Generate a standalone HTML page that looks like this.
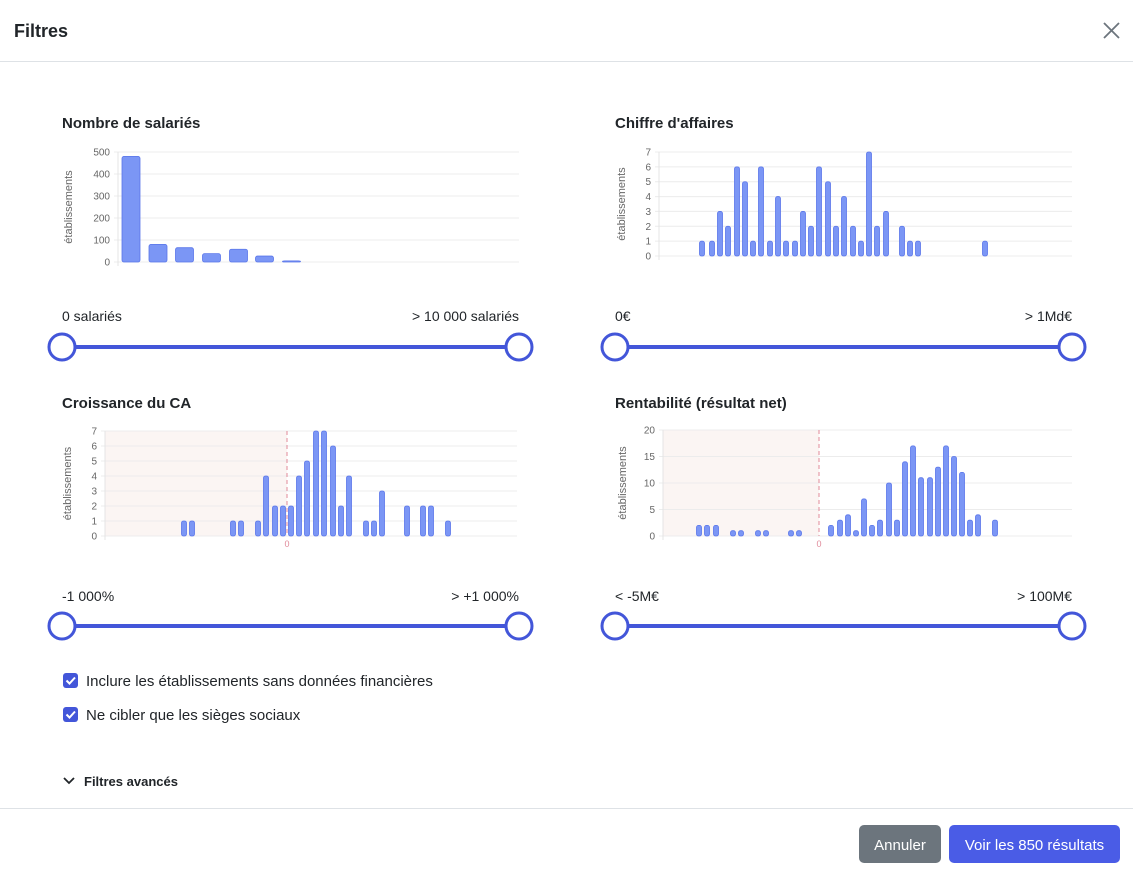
<!DOCTYPE html>
<html><head><meta charset="utf-8">
<style>
html,body{margin:0;padding:0;background:#fff;width:1133px;height:873px;overflow:hidden;font-family:"Liberation Sans",Arial,sans-serif;}
svg{display:block}
</style></head>
<body>
<svg id="s" width="1133" height="873" xmlns="http://www.w3.org/2000/svg" font-family="Liberation Sans, Arial, sans-serif">
<text x="14" y="37" font-size="18" font-weight="bold" fill="#212529">Filtres</text>
<path d="M1104 23 L1119 38 M1119 23 L1104 38" stroke="#6c757d" stroke-width="1.8"/>
<line x1="0" y1="61.5" x2="1133" y2="61.5" stroke="#dee2e6"/>
<line x1="0" y1="808.5" x2="1133" y2="808.5" stroke="#dee2e6"/>

<text x="62" y="128" font-size="15" font-weight="bold" fill="#212529">Nombre de salariés</text>
<text x="615" y="128" font-size="15" font-weight="bold" fill="#212529">Chiffre d'affaires</text>
<text x="62" y="408" font-size="15" font-weight="bold" fill="#212529">Croissance du CA</text>
<text x="615" y="408" font-size="15" font-weight="bold" fill="#212529">Rentabilité (résultat net)</text>

<text x="62" y="321" font-size="14" fill="#212529">0 salariés</text>
<text x="519" y="321" font-size="14" fill="#212529" text-anchor="end">&gt; 10 000 salariés</text>
<text x="615" y="321" font-size="14" fill="#212529">0€</text>
<text x="1072" y="321" font-size="14" fill="#212529" text-anchor="end">&gt; 1Md€</text>
<text x="62" y="601" font-size="14" fill="#212529">-1 000%</text>
<text x="519" y="601" font-size="14" fill="#212529" text-anchor="end">&gt; +1 000%</text>
<text x="615" y="601" font-size="14" fill="#212529">&lt; -5M€</text>
<text x="1072" y="601" font-size="14" fill="#212529" text-anchor="end">&gt; 100M€</text>

<g id="charts"></g>

<rect x="63" y="673" width="15" height="15" rx="3" fill="#4356d9"/>
<path d="M66.5 680.5 L69.5 683.5 L75 677.5" stroke="#fff" stroke-width="2" fill="none"/>
<text x="86" y="686" font-size="15" fill="#212529">Inclure les établissements sans données financières</text>
<rect x="63" y="707" width="15" height="15" rx="3" fill="#4356d9"/>
<path d="M66.5 714.5 L69.5 717.5 L75 711.5" stroke="#fff" stroke-width="2" fill="none"/>
<text x="86" y="720" font-size="15" fill="#212529">Ne cibler que les sièges sociaux</text>

<path d="M64 778 L69 783 L74 778" stroke="#212529" stroke-width="1.8" fill="none"/>
<text x="84" y="786" font-size="13" font-weight="bold" fill="#212529">Filtres avancés</text>

<rect x="859" y="825" width="82" height="38" rx="5" fill="#6c757d"/>
<text x="900" y="850" font-size="15" fill="#fff" text-anchor="middle">Annuler</text>
<rect x="949" y="825" width="171" height="38" rx="5" fill="#4a5ce6"/>
<text x="1034.5" y="850" font-size="15" fill="#fff" text-anchor="middle">Voir les 850 résultats</text>
</svg>
<script>
var NS="http://www.w3.org/2000/svg",g=document.getElementById("charts");
function el(t,a,txt){var e=document.createElementNS(NS,t);for(var k in a)e.setAttribute(k,a[k]);if(txt!==undefined)e.textContent=txt;g.appendChild(e);return e;}
function chart(o){
 if(o.shade){el("rect",{x:o.x0,y:o.yt,width:o.shade-o.x0,height:o.yb-o.yt,fill:"#fbf5f3"});}
 for(var i=0;i<o.ticks.length;i++){var v=o.ticks[i],y=o.yb-(o.yb-o.yt)*v/o.max;
  el("line",{x1:o.x0-4,x2:o.x1,y1:y,y2:y,stroke:"#ececec","stroke-width":1});
  el("text",{x:o.x0-8,y:y+3.5,"font-size":10,fill:"#666","text-anchor":"end"},String(v));}
 el("line",{x1:o.x0,x2:o.x0,y1:o.yt,y2:o.yb+4,stroke:"#e4e4e4"});
 var cy=(o.yt+o.yb)/2, lx=o.x0-(o.lo||34);
 el("text",{x:lx,y:cy,"font-size":11,fill:"#666","text-anchor":"middle",transform:"rotate(-90 "+lx+" "+cy+")"},"établissements");
 if(o.shade){el("line",{x1:o.shade,x2:o.shade,y1:o.yt,y2:o.yb,stroke:"#e08a9a","stroke-dasharray":"4,3","stroke-width":1});
  el("text",{x:o.shade,y:o.yb+11,"font-size":9,fill:"#e08a9a","text-anchor":"middle"},"0");}
 for(var j=0;j<o.bars.length;j++){var b=o.bars[j],h=(o.yb-o.yt)*b[1]/o.max;
  el("rect",{x:b[0]-o.w/2,y:o.yb-h,width:o.w,height:h,rx:Math.min(2,o.w/2),fill:"#7b96f5",stroke:"#5a76ea","stroke-width":0.8});}
}
chart({x0:118,x1:519,yt:152,yb:262,max:500,ticks:[0,100,200,300,400,500],w:18,lo:46,
 bars:[[131,480],[158,80],[184.5,65],[211.5,38],[238.5,58],[264.5,27],[291.5,5]]});
var b2=[[702,1],[712,1],[720,3],[728,2],[737,6],[745,5],[753,1],[761,6],[770,1],[778,4],[786,1],[795,1],[803,3],[811,2],[819,6],[828,5],[836,2],[844,4],[853,2],[861,1],[869,7],[877,2],[886,3],[902,2],[910,1],[918,1],[985,1]];
chart({x0:659,x1:1072,yt:152,yb:256,max:7,ticks:[0,1,2,3,4,5,6,7],w:5,bars:b2});
var b3=[[184,1],[192,1],[233,1],[241,1],[258,1],[266,4],[275,2],[283,2],[291,2],[299,4],[307,5],[316,7],[324,7],[333,6],[341,2],[349,4],[366,1],[374,1],[382,3],[407,2],[423,2],[431,2],[448,1]];
chart({x0:105,x1:517,yt:431,yb:536,max:7,ticks:[0,1,2,3,4,5,6,7],w:5,bars:b3,shade:287});
var b4=[[699,2],[707,2],[716,2],[733,1],[741,1],[758,1],[766,1],[791,1],[799,1],[831,2],[840,3],[848,4],[856,1],[864,7],[872,2],[880,3],[889,10],[897,3],[905,14],[913,17],[921,11],[930,11],[938,13],[946,17],[954,15],[962,12],[970,3],[978,4],[995,3]];
chart({x0:663,x1:1072,yt:430,yb:536,max:20,ticks:[0,5,10,15,20],w:5,bars:b4,shade:819,lo:37});
function slider(x0,x1,y){
 el("line",{x1:x0,x2:x1,y1:y,y2:y,stroke:"#4356d9","stroke-width":4});
 el("circle",{cx:x0,cy:y,r:13,fill:"#fff",stroke:"#4356d9","stroke-width":3});
 el("circle",{cx:x1,cy:y,r:13,fill:"#fff",stroke:"#4356d9","stroke-width":3});
}
slider(62,519,347);slider(615,1072,347);slider(62,519,626);slider(615,1072,626);
</script>
</body></html>
